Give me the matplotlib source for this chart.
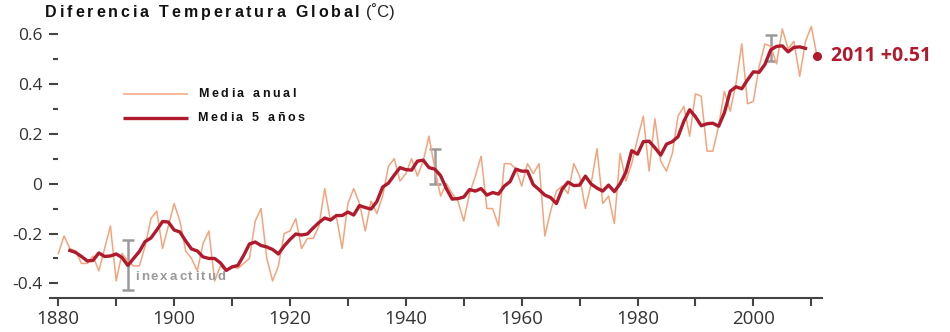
import numpy as np
import matplotlib
matplotlib.use('Agg')
import matplotlib.pyplot as plt
from matplotlib.lines import Line2D
from matplotlib.ticker import FixedLocator

# anomalia de temperatura global (GISTEMP), centesimas de grado
anios = list(range(1880, 2012))
media_anual = [
    -28, -21, -26, -27, -32, -32, -29, -35, -26, -17,
    -39, -28, -31, -33, -33, -25, -14, -11, -26, -17,
    -8, -15, -27, -30, -35, -24, -19, -39, -33, -35,
    -33, -34, -32, -30, -15, -10, -30, -39, -33, -20,
    -19, -14, -26, -22, -22, -17, -2, -15, -13, -26,
    -8, -2, -8, -19, -7, -12, -5, 7, 10, 1,
    4, 10, 3, 9, 19, 6, -5, 0, -4, -7,
    -15, -4, 3, 11, -10, -10, -17, 8, 8, 6,
    -1, 8, 4, 8, -21, -11, -3, -1, -4, 8,
    3, -10, 0, 14, -8, -5, -16, 12, 1, 8,
    18, 27, 5, 26, 9, 5, 12, 27, 31, 19,
    36, 35, 13, 13, 23, 37, 29, 40, 56, 32,
    33, 47, 56, 55, 48, 62, 54, 57, 43, 57,
    63, 51]

anios_5 = list(range(1882, 2010))
media_5 = [
    -26.8, -27.6, -29.2, -31.0, -30.8, -27.8, -29.2, -29.0,
    -28.2, -29.6, -32.8, -30.0, -27.2, -23.2, -21.8, -18.6, -15.2, -15.4,
    -18.6, -19.4, -23.0, -26.2, -27.0, -29.4, -30.0, -30.0, -31.8, -34.8,
    -33.4, -32.8, -28.8, -24.2, -23.4, -24.8, -25.4, -26.4, -28.2, -25.0,
    -22.4, -20.2, -20.6, -20.2, -17.8, -15.6, -13.8, -14.6, -12.8, -12.8,
    -11.4, -12.6, -8.8, -9.6, -10.2, -7.2, -1.4, 0.2, 3.4, 6.4,
    5.6, 5.4, 9.0, 9.4, 6.4, 5.8, 3.2, -2.0, -6.2, -6.0,
    -5.4, -2.4, -3.0, -2.0, -4.6, -3.6, -4.2, -1.0, 0.8, 5.8,
    5.0, 5.0, -0.4, -2.4, -4.6, -5.6, -8.0, -2.2, 0.6, -0.8,
    -0.6, 3.0, -0.2, -1.8, -3.0, -0.6, -3.2, 0.0, 4.6, 13.2,
    11.8, 16.8, 17.0, 14.4, 11.4, 15.8, 16.8, 18.8, 25.0, 29.6,
    26.8, 23.2, 24.0, 24.2, 23.0, 28.4, 37.0, 38.8, 38.0, 41.6,
    44.8, 44.6, 47.8, 53.6, 55.0, 55.2, 52.8, 54.6, 54.8, 54.2]

# barras de incertidumbre
anios_err = [1892, 1945, 2003]
centro_err = [-0.325, 0.068, 0.543]
semi_err = [0.100, 0.070, 0.053]

ultimo_anio = 2011
ultimo_valor = 0.51

ticks_y = [-0.4, -0.2, 0, 0.2, 0.4, 0.6]
etiquetas_y = ['-0.4', '-0.2', '0', '0.2', '0.4', '0.6']
ticks_y_menor = [-0.3, -0.1, 0.1, 0.3, 0.5]
ticks_x = [1880, 1900, 1920, 1940, 1960, 1980, 2000]
ticks_x_menor = [1890, 1910, 1930, 1950, 1970, 1990, 2010]

col_anual = '#f4a47c'
col_5 = '#b11a2c'
col_gris = '#9a9a9a'
col_eje = '#444444'

fig = plt.figure(figsize=(9.5, 3.32), dpi=100)
W, H = 950, 332
ax = fig.add_axes([50 / W, (332 - 298) / H, 772 / W, 288 / H])

ax.errorbar(anios_err, centro_err, yerr=semi_err, fmt='none', ecolor=col_gris,
            elinewidth=1.8, capsize=4.2, capthick=1.8, zorder=1)
l_anual, = ax.plot(anios, np.array(media_anual) / 100, color=col_anual, lw=1.1, zorder=2)
l_5, = ax.plot(anios_5, np.array(media_5) / 100, color=col_5, lw=2.4,
               solid_joinstyle='round', zorder=3)
ax.plot([ultimo_anio], [ultimo_valor], 'o', color=col_5, ms=5.5, clip_on=False, zorder=4)
ax.annotate('%d +%.2f' % (ultimo_anio, ultimo_valor), xy=(ultimo_anio, ultimo_valor),
            xytext=(10, 0), textcoords='offset points', va='center', ha='left',
            color=col_5, fontsize=14, fontweight='bold', family='Open Sans',
            annotation_clip=False)

ax.set_xlim(1878.57, 2011.85)
ax.set_ylim(-0.4585, 0.6958)

ax.set_yticks(ticks_y)
ax.set_yticklabels(etiquetas_y)
ax.yaxis.set_minor_locator(FixedLocator(ticks_y_menor))
ax.set_xticks(ticks_x)
ax.set_xticklabels([str(t) for t in ticks_x])
ax.xaxis.set_minor_locator(FixedLocator(ticks_x_menor))

for s in ['top', 'right']:
    ax.spines[s].set_visible(False)
ax.spines['left'].set_position(('data', 1880))
ax.spines['left'].set_visible(False)
ax.spines['bottom'].set_color(col_eje)
ax.spines['bottom'].set_linewidth(1.5)

ax.tick_params(axis='y', which='major', direction='out', length=6.5, width=1.5,
               color=col_eje, pad=5, labelsize=12.5, labelcolor='#333333')
ax.tick_params(axis='y', which='minor', direction='out', length=3.6, width=1.5,
               color=col_eje)
ax.tick_params(axis='x', which='both', direction='out', length=6, width=1.5,
               color=col_eje, pad=3, labelsize=13.5, labelcolor='#333333')
for lab in ax.get_xticklabels() + ax.get_yticklabels():
    lab.set_family('Open Sans')

r = fig.canvas.get_renderer()


def texto_espaciado(x, y, s, track, size, **kw):
    # texto con espaciado entre letras; x, y en pixeles desde arriba a la izquierda
    for ch in s:
        if ch == ' ':
            x += size * 0.278 * 100 / 72 + track
            continue
        t = fig.text(x / W, 1 - y / H, ch, va='baseline', ha='left', size=size, **kw)
        x += t.get_window_extent(r).width + track
    return x


fuente = ['Liberation Sans', 'DejaVu Sans']
fin = texto_espaciado(45, 17.3, 'Diferencia Temperatura Global', 2.9, 11.5,
                      family=fuente, weight='bold', color='#111111')
fig.text((fin + 3) / W, 1 - 17.3 / H, '(˚C)', va='baseline', ha='left', size=12,
         family=fuente, color='#222222')

# leyenda
for yk, linea in [(94.3, l_anual), (117.7, l_5)]:
    fig.add_artist(Line2D([123 / W, 188 / W], [1 - yk / H, 1 - yk / H],
                          color=linea.get_color(), lw=linea.get_linewidth(),
                          solid_capstyle='butt'))
texto_espaciado(198, 97, 'Media anual', 2.6, 9, family=fuente, weight='bold', color='#111111')
texto_espaciado(197, 120.5, 'Media 5 años', 2.6, 9, family=fuente, weight='bold', color='#111111')

texto_espaciado(135, 280, 'inexactitud', 2.0, 9.5, family=fuente, weight='bold', color=col_gris)

fig.savefig('out.png', dpi=100)
